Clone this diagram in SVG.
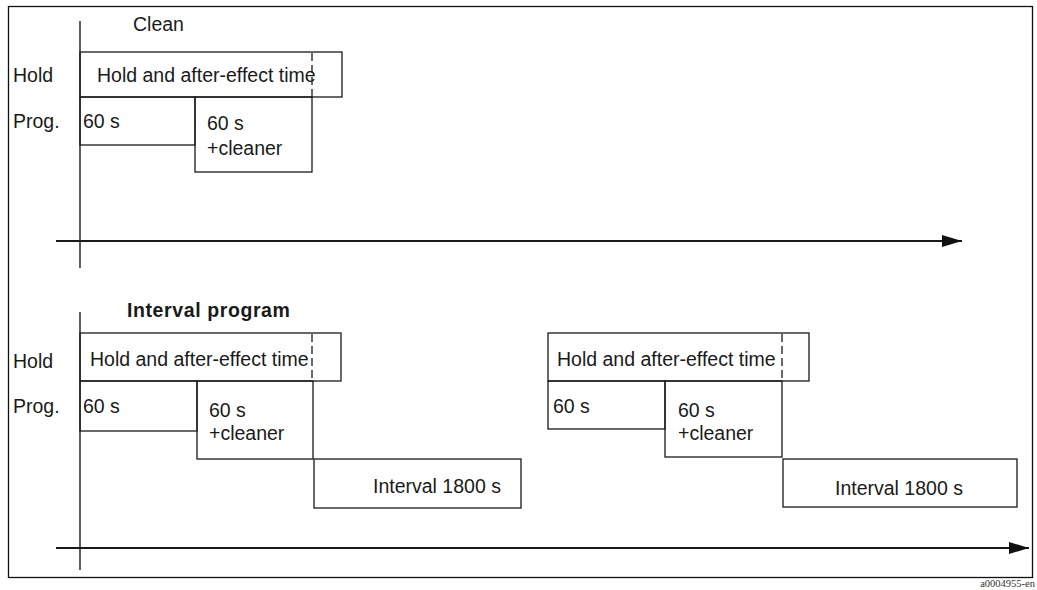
<svg xmlns="http://www.w3.org/2000/svg" width="1037" height="590" viewBox="0 0 1037 590">
<style>
.t{font-family:"Liberation Sans",Arial,sans-serif;font-size:19.5px;fill:#1a1a1a}
.b{font-weight:bold;letter-spacing:0.6px}
.box{fill:none;stroke:#1a1a1a;stroke-width:1.3}
.dash{fill:none;stroke:#1a1a1a;stroke-width:1.3;stroke-dasharray:8 4}
.ax{fill:none;stroke:#1a1a1a;stroke-width:1.4}
.hx{fill:none;stroke:#1a1a1a;stroke-width:2}
.code{font-family:"Liberation Serif","Times New Roman",serif;font-size:10.5px;fill:#333}
</style>
<defs>
<marker id="arr" viewBox="0 0 20 12" refX="20" refY="6" markerWidth="20" markerHeight="12" markerUnits="userSpaceOnUse" orient="auto">
<path d="M0,0 L20,6 L0,12 Z" fill="#111"/>
</marker>
</defs>
<rect x="8.5" y="6.5" width="1024" height="571" fill="none" stroke="#111" stroke-width="1.3"/>

<g id="connectors">
<line class="ax" x1="80" y1="21" x2="80" y2="268"/>
<line class="hx" x1="56" y1="241" x2="962" y2="241" marker-end="url(#arr)"/>
<line class="ax" x1="80" y1="312" x2="80" y2="570"/>
<line class="hx" x1="56" y1="548" x2="1029" y2="548" marker-end="url(#arr)"/>
</g>

<g id="top-labels">
<text class="t" x="133" y="31">Clean</text>
<text class="t" x="13" y="82">Hold</text>
<text class="t" x="13" y="128">Prog.</text>
</g>
<g id="top-hold">
<rect class="box" x="80" y="52" width="262" height="45"/>
<line class="dash" x1="312" y1="53" x2="312" y2="97"/>
<text class="t" x="97" y="82">Hold and after-effect time</text>
</g>
<g id="top-prog1">
<rect class="box" x="80" y="97" width="115" height="48"/>
<text class="t" x="83" y="128">60 s</text>
</g>
<g id="top-prog2">
<rect class="box" x="195" y="97" width="117" height="75"/>
<text class="t" x="207" y="130">60 s</text>
<text class="t" x="207" y="155">+cleaner</text>
</g>

<g id="bottom-labels">
<text class="t b" x="127" y="317">Interval program</text>
<text class="t" x="13" y="368">Hold</text>
<text class="t" x="13" y="413">Prog.</text>
</g>
<g id="b1-hold">
<rect class="box" x="80" y="333" width="261" height="48"/>
<line class="dash" x1="312" y1="334" x2="312" y2="381"/>
<text class="t" x="90" y="366">Hold and after-effect time</text>
</g>
<g id="b1-prog1">
<rect class="box" x="80" y="381" width="117" height="50"/>
<text class="t" x="83" y="413">60 s</text>
</g>
<g id="b1-prog2">
<rect class="box" x="197" y="381" width="116" height="78"/>
<text class="t" x="209" y="417">60 s</text>
<text class="t" x="209" y="440">+cleaner</text>
</g>
<g id="b1-interval">
<rect class="box" x="314" y="459" width="207" height="49"/>
<text class="t" x="373" y="493">Interval 1800 s</text>
</g>

<g id="b2-hold">
<rect class="box" x="548" y="333" width="261" height="48"/>
<line class="dash" x1="782" y1="334" x2="782" y2="381"/>
<text class="t" x="557" y="366">Hold and after-effect time</text>
</g>
<g id="b2-prog1">
<rect class="box" x="548" y="381" width="117" height="48"/>
<text class="t" x="553" y="413">60 s</text>
</g>
<g id="b2-prog2">
<rect class="box" x="665" y="381" width="117" height="76"/>
<text class="t" x="678" y="417">60 s</text>
<text class="t" x="678" y="440">+cleaner</text>
</g>
<g id="b2-interval">
<rect class="box" x="783" y="459" width="234" height="48"/>
<text class="t" x="835" y="495">Interval 1800 s</text>
</g>

<text class="code" x="1035" y="587" text-anchor="end">a0004955-en</text>
</svg>
